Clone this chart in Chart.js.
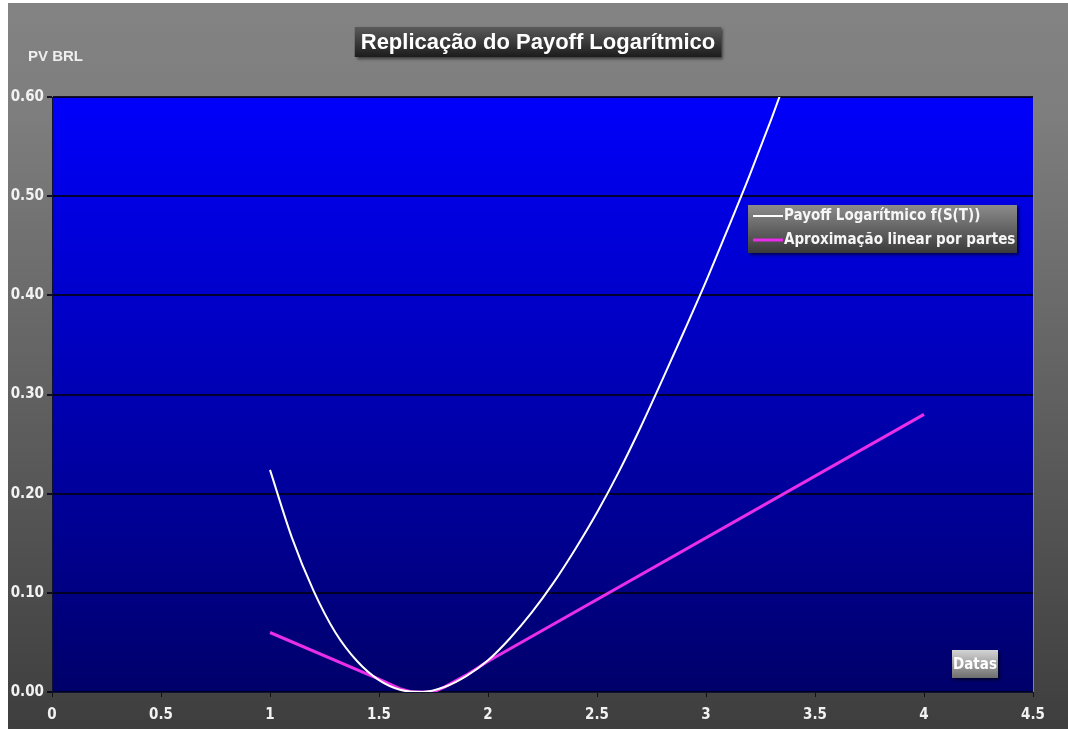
<!DOCTYPE html>
<html>
<head>
<meta charset="utf-8">
<script src="https://cdn.jsdelivr.net/npm/chart.js@4.4.1/dist/chart.umd.min.js"></script>
<style>
  html, body { margin: 0; padding: 0; background: #fff; }
  #wrap { width: 1068px; height: 729px; }
</style>
</head>
<body>
<div id="wrap"><canvas id="grafico" width="1068" height="729"></canvas></div>
<script>
// dados
const tituloGrafico = 'Replicação do Payoff Logarítmico';
const tituloEixoY = 'PV BRL';
const tituloEixoX = 'Datas';
const nomesSeries = ['Payoff Logarítmico f(S(T))', 'Aproximação linear por partes'];

// payoff logarítmico (curva branca)
const payoffX = [1.0, 1.1, 1.2, 1.3, 1.4, 1.5, 1.6, 1.7, 1.8, 1.9, 2.0, 2.1, 2.2, 2.3, 2.4, 2.5, 2.6, 2.7, 2.8, 2.9, 3.0, 3.1, 3.2, 3.3, 3.4, 3.5];
const payoffY = [0.224, 0.156, 0.102, 0.060, 0.031, 0.012, 0.002, 0.000, 0.005, 0.016, 0.032, 0.054, 0.080, 0.110, 0.144, 0.181, 0.222, 0.267, 0.315, 0.364, 0.414, 0.467, 0.521, 0.578, 0.638, 0.699];

// aproximação linear por partes (linha rosa)
const aproxX = [1.0, 1.5, 1.6, 1.65, 1.75, 1.8, 1.9, 2.0, 4.0];
const aproxY = [0.060, 0.013, 0.003, 0.000, 0.000, 0.005, 0.017, 0.031, 0.280];

// eixos
const eixoXMin = 0, eixoXMax = 4.5, passoX = 0.5;
const eixoYMin = 0, eixoYMax = 0.6, passoY = 0.1;

const fonteEstreita = "'DejaVu Sans Condensed', 'Liberation Sans Narrow', 'Liberation Sans', sans-serif";
const fonteNormal = "'Liberation Sans', Arial, sans-serif";

function pontos(xs, ys) {
    return xs.map((x, i) => ({ x: x, y: ys[i] }));
}

// fundo cinza, área azul, título, legenda e caixas de texto
const decoracao = {
    id: 'decoracao',
    beforeDraw(chart) {
        const { ctx, chartArea: a, width, height } = chart;
        ctx.save();
        ctx.fillStyle = '#ffffff';
        ctx.fillRect(0, 0, width, height);
        const g = ctx.createLinearGradient(0, 3, 0, height);
        g.addColorStop(0, '#838383');
        g.addColorStop(0.15, '#7e7e7e');
        g.addColorStop(1, '#3e3e3e');
        ctx.fillStyle = g;
        ctx.fillRect(8, 3, width - 8, height - 3);
        const azul = ctx.createLinearGradient(0, a.top, 0, a.bottom);
        azul.addColorStop(0, '#0000fc');
        azul.addColorStop(1, '#00006a');
        ctx.fillStyle = azul;
        ctx.fillRect(a.left, a.top, a.width, a.height);
        ctx.restore();
    },
    afterDraw(chart) {
        const { ctx, chartArea: a } = chart;
        ctx.save();

        // borda direita da área
        ctx.strokeStyle = '#7c7cc8';
        ctx.lineWidth = 1;
        ctx.beginPath();
        ctx.moveTo(a.right + 0.5, a.top);
        ctx.lineTo(a.right + 0.5, a.bottom);
        ctx.stroke();

        // título
        ctx.font = 'bold 22px ' + fonteNormal;
        const wt = ctx.measureText(tituloGrafico).width;
        const tx = 538, ty = 42;
        caixa(ctx, tx - wt / 2 - 6, 27, wt + 12, 30, '#5a5a5a', '#1c1c1c');
        ctx.fillStyle = '#ffffff';
        ctx.textAlign = 'center';
        ctx.textBaseline = 'middle';
        ctx.fillText(tituloGrafico, tx, ty + 1);

        // título do eixo Y
        ctx.font = 'bold 15px ' + fonteNormal;
        ctx.fillStyle = '#eeeeee';
        ctx.textAlign = 'left';
        ctx.fillText(tituloEixoY, 28, 57);

        // legenda
        caixa(ctx, 748, 205, 269, 48, '#8c8c8c', '#3a3a3a');
        ctx.font = 'bold 15px ' + fonteEstreita;
        chart.data.datasets.forEach((ds, i) => {
            const y = 216 + i * 24;
            ctx.strokeStyle = ds.borderColor;
            ctx.lineWidth = i === 0 ? 2 : 3;
            ctx.beginPath();
            ctx.moveTo(753, y);
            ctx.lineTo(783, y);
            ctx.stroke();
            ctx.fillStyle = '#f6f6f6';
            ctx.textAlign = 'left';
            ctx.fillText(ds.label, 784, y);
        });

        // título do eixo X
        caixa(ctx, 952, 650, 46, 28, '#d4d4d4', '#6e6e6e');
        ctx.font = 'bold 15px ' + fonteEstreita;
        ctx.fillStyle = '#ffffff';
        ctx.textAlign = 'center';
        ctx.fillText(tituloEixoX, 975, 665);

        ctx.restore();
    }
};

function caixa(ctx, x, y, w, h, c1, c2) {
    ctx.save();
    ctx.shadowColor = 'rgba(0,0,0,0.6)';
    ctx.shadowOffsetX = 2;
    ctx.shadowOffsetY = 2;
    ctx.shadowBlur = 3;
    const g = ctx.createLinearGradient(0, y, 0, y + h);
    g.addColorStop(0, c1);
    g.addColorStop(1, c2);
    ctx.fillStyle = g;
    ctx.fillRect(x, y, w, h);
    ctx.restore();
}

const ctx = document.getElementById('grafico').getContext('2d');
new Chart(ctx, {
    type: 'scatter',
    data: {
        datasets: [
            {
                label: nomesSeries[0],
                data: pontos(payoffX, payoffY),
                showLine: true,
                borderColor: '#ffffff',
                borderWidth: 2,
                pointRadius: 0,
                cubicInterpolationMode: 'monotone'
            },
            {
                label: nomesSeries[1],
                data: pontos(aproxX, aproxY),
                showLine: true,
                borderColor: '#e82ee8',
                borderWidth: 3,
                pointRadius: 0
            }
        ]
    },
    options: {
        responsive: false,
        animation: false,
        layout: { padding: { left: 8, top: 97, right: 35, bottom: 0 } },
        plugins: {
            legend: { display: false },
            title: { display: false },
            tooltip: { enabled: false }
        },
        scales: {
            x: {
                type: 'linear',
                min: eixoXMin,
                max: eixoXMax,
                afterFit(s) { s.height = 37; },
                ticks: {
                    stepSize: passoX,
                    color: '#f2f2f2',
                    padding: 9,
                    font: { family: fonteEstreita, size: 15, weight: 'bold' },
                    callback: v => String(Number(v.toFixed(1)))
                },
                grid: { drawOnChartArea: false, drawTicks: true, tickLength: 5, color: '#111111' },
                border: { color: '#111133', width: 1 }
            },
            y: {
                type: 'linear',
                min: eixoYMin,
                max: eixoYMax,
                afterFit(s) { s.width = 44; },
                ticks: {
                    stepSize: passoY,
                    color: '#f2f2f2',
                    padding: 3,
                    font: { family: fonteEstreita, size: 15, weight: 'bold' },
                    callback: v => v.toFixed(2)
                },
                grid: { color: 'rgba(0,0,20,0.85)', lineWidth: 2, tickLength: 5 },
                border: { color: '#111133', width: 1 }
            }
        }
    },
    plugins: [decoracao]
});
</script>
</body>
</html>
